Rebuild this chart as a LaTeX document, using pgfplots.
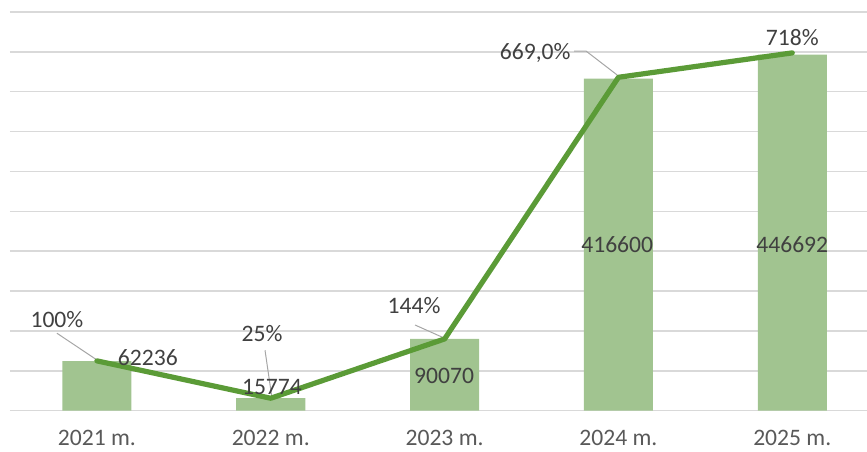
\documentclass[border=0pt]{standalone}
\usepackage{pgfplots}
\pgfplotsset{compat=1.18}
\usepackage{fontspec}
\setmainfont{Carlito}
\definecolor{barc}{HTML}{A1C490}
\definecolor{linec}{HTML}{5B9B37}
\definecolor{gridc}{HTML}{D9D9D9}
\definecolor{lblc}{HTML}{404040}
\definecolor{tickc}{HTML}{595959}
\definecolor{leadc}{HTML}{A6A6A6}
\begin{document}
\fontsize{11.8pt}{14pt}\selectfont
\begin{tikzpicture}
\begin{axis}[
  name=main,
  scale only axis, width=428.5pt, height=199.35pt,
  xmin=-0.5, xmax=4.43, ymin=0, ymax=500000,
  axis line style={draw=none},
  scaled y ticks=false,
  ytick={0,50000,...,500000}, yticklabels={},
  yticklabel style={inner sep=0pt, text height=0pt, text depth=0pt, anchor=east},
  ymajorgrids, grid style={gridc, line width=0.75pt},
  xtick={0,1,2,3,4},
  xticklabels={2021 m.,2022 m.,2023 m.,2024 m.,2025 m.},
  major tick length=0pt,
  xticklabel style={font=\fontsize{11.8pt}{14pt}\selectfont, text=tickc, anchor=base, inner sep=0pt, text depth=0pt, yshift=-17.6pt},
]
\addplot[ybar, bar width=0.397, fill=barc, draw=none] coordinates {(0,62236)(1,15774)(2,90070)(3,416600)(4,446692)};
\end{axis}
\begin{axis}[
  scale only axis, width=428.5pt, height=199.35pt,
  xmin=-0.5, xmax=4.43, ymin=0, ymax=800,
  hide axis, clip=false,
]
\draw[leadc, line width=0.5pt] (axis cs:-0.23,155.5) -- (axis cs:0,101.8);
\draw[leadc, line width=0.5pt] (axis cs:0.967,121.3) -- (axis cs:1.007,25.4);
\draw[leadc, line width=0.5pt] (axis cs:1.830,172) -- (axis cs:1.997,145.9);
\draw[leadc, line width=0.5pt] (axis cs:2.745,721.6) -- (axis cs:2.814,721.6) -- (axis cs:2.993,673.6);
\addplot[linec, line width=2.6pt, line cap=round, line join=round, mark=none] coordinates {(0,100)(1,25)(2,144)(3,669)(4,718)};
\begin{scope}[every node/.style={text=lblc, inner sep=0pt, font=\fontsize{11.8pt}{14pt}\selectfont}]
\node at (axis cs:-0.23,183.8) {100\%};
\node at (axis cs:0.293,105.8) {62236};
\node at (axis cs:0.95,155.8) {25\%};
\node at (axis cs:1.007,47.5) {15774};
\node at (axis cs:1.824,210.1) {144\%};
\node at (axis cs:1.997,69.6) {90070};
\node at (axis cs:2.521,717.6) {669,0\%};
\node at (axis cs:4.0,747.8) {718\%};
\node at (axis cs:2.993,332.5) {416600};
\node at (axis cs:4.0,332.5) {446692};
\end{scope}
\end{axis}
\pgfresetboundingbox
\path[use as bounding box] ([shift={(-5pt,-20.4pt)}]main.south west) rectangle ([shift={(0pt,6pt)}]main.north east);
\end{tikzpicture}
\end{document}
